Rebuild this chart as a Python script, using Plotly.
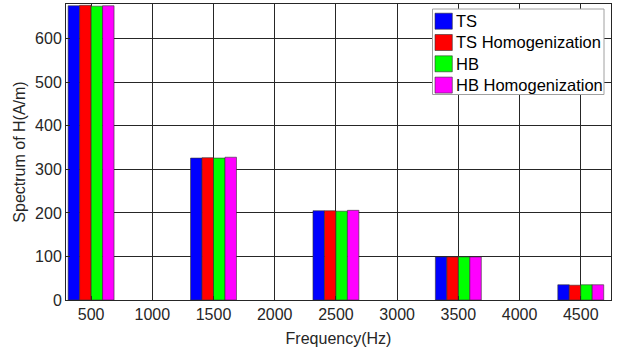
import plotly.graph_objects as go

freqs = [500, 1500, 2500, 3500, 4500]
ts = [676, 326, 205, 99, 35]
ts_hom = [677, 327, 205, 99, 34]
hb = [675, 326, 204, 99, 35]
hb_hom = [676, 328, 206, 99, 35]
series = [("TS", ts, "#0000ff"), ("TS Homogenization", ts_hom, "#ff0000"),
          ("HB", hb, "#00ff00"), ("HB Homogenization", hb_hom, "#ff00ff")]
xticks = [500, 1000, 1500, 2000, 2500, 3000, 3500, 4000, 4500]
yticks = [0, 100, 200, 300, 400, 500, 600]

W, H = 625, 352
ML, MR, MT, MB = 66, 14, 4, 52
PW, PH = W - ML - MR, H - MT - MB


def px(x):
    return (x - ML) / PW


def py(y):
    return (H - MB - y) / PH


fig = go.Figure()
for name, vals, col in series:
    fig.add_trace(go.Bar(x=freqs, y=vals, name=name, marker_color=col,
                         showlegend=False,
                         marker_line=dict(color="#333333", width=0.6)))

font = "Liberation Sans, Arial, sans-serif"

# custom legend box (MATLAB style)
shapes = [dict(type="rect", xref="paper", yref="paper", layer="above",
               x0=px(432.5), x1=px(604), y0=py(94.5), y1=py(9),
               fillcolor="white", line=dict(color="#a0a0a0", width=1))]
annotations = []
for i, (name, vals, col) in enumerate(series):
    cy = 21.2 + i * 21.3
    shapes.append(dict(type="rect", xref="paper", yref="paper", layer="above",
                       x0=px(435), x1=px(452.3), y0=py(cy + 8), y1=py(cy - 8),
                       fillcolor=col, line=dict(color="#333333", width=0.6)))
    annotations.append(dict(text=name, xref="paper", yref="paper",
                            x=px(454), y=py(cy), xanchor="left", yanchor="middle",
                            showarrow=False,
                            font=dict(family=font, size=16.5, color="black")))

fig.update_layout(
    width=W, height=H, barmode="group", bargap=0.625, bargroupgap=0,
    margin=dict(l=ML, r=MR, t=MT, b=MB),
    plot_bgcolor="white", paper_bgcolor="white",
    font=dict(family=font, size=16, color="#262626"),
    showlegend=False,
    shapes=shapes, annotations=annotations,
    xaxis=dict(range=[295, 4747], tickvals=xticks, showgrid=True,
               gridcolor="#262626", gridwidth=1, showline=True, linecolor="#262626",
               linewidth=1, mirror=True, zeroline=False, automargin=False,
               tickfont=dict(size=16),
               title=dict(text="Frequency(Hz)", standoff=10, font=dict(size=16)),
               ticks="inside", ticklen=4, tickcolor="#262626"),
    yaxis=dict(range=[0, 680], tickvals=yticks, showgrid=True,
               gridcolor="#262626", gridwidth=1, showline=True, linecolor="#262626",
               linewidth=1, mirror=True, zeroline=False, automargin=False,
               tickfont=dict(size=16),
               title=dict(text="Spectrum of H(A/m)", standoff=5, font=dict(size=16)),
               ticks="inside", ticklen=4, tickcolor="#262626"),
)
fig.write_html("out.html", config={"displayModeBar": False},
               post_script="document.body.style.margin='0';")
